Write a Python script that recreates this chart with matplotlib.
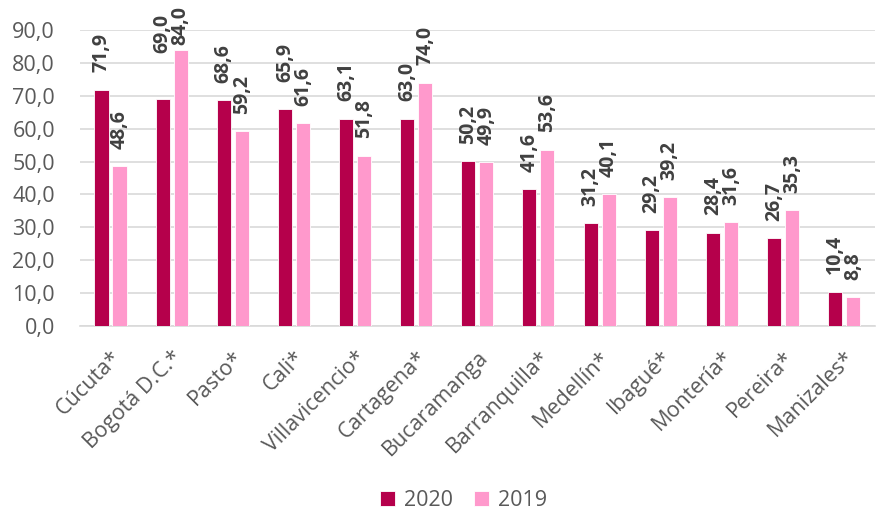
import numpy as np
import matplotlib
matplotlib.use("Agg")
import matplotlib.pyplot as plt

plt.rcParams['font.family'] = ['Open Sans', 'DejaVu Sans']

ciudades = ['Cúcuta*', 'Bogotá D.C.*', 'Pasto*', 'Cali*', 'Villavicencio*',
            'Cartagena*', 'Bucaramanga', 'Barranquilla*', 'Medellín*',
            'Ibagué*', 'Montería*', 'Pereira*', 'Manizales*']
v2020 = [71.9, 69.0, 68.6, 65.9, 63.1, 63.0, 50.2, 41.6, 31.2, 29.2, 28.4, 26.7, 10.4]
v2019 = [48.6, 84.0, 59.2, 61.6, 51.8, 74.0, 49.9, 53.6, 40.1, 39.2, 31.6, 35.3, 8.8]
yticks = np.arange(0, 91, 10)

c2020 = '#B5004B'
c2019 = '#FF99CC'
gris = '#595959'

# separacion de etiquetas (pt); algunas movidas para evitar choques, como en Excel
off_base = 12.5
off_esp = {('2020', 1): 33, ('2019', 1): 3.5, ('2020', 3): 20}

fig = plt.figure(figsize=(8.88, 5.19), dpi=100)
ax = fig.add_axes([0.09, 0.372, 0.895, 0.570])

x = np.arange(len(ciudades))
w = 0.23
gap = 0.065
b1 = ax.bar(x - (w + gap) / 2, v2020, w, color=c2020, edgecolor='white', linewidth=0.6, label='2020', zorder=3)
b2 = ax.bar(x + (w + gap) / 2, v2019, w, color=c2019, edgecolor='white', linewidth=0.6, label='2019', zorder=3)

def fmt(v):
    return f"{v:.1f}".replace('.', ',')

for serie, bars, vals in (('2020', b1, v2020), ('2019', b2, v2019)):
    for i, (r, v) in enumerate(zip(bars, vals)):
        off = off_esp.get((serie, i), off_base)
        ax.annotate(fmt(v), (r.get_x() + r.get_width() / 2, v),
                    xytext=(0, off), textcoords='offset points',
                    rotation=90, ha='center', va='bottom',
                    fontsize=14, fontweight='bold', color='#404040',
                    annotation_clip=False)

ax.set_xlim(-0.5, len(ciudades) - 0.5)
ax.set_ylim(0, 90)
ax.set_yticks(yticks)
ax.set_yticklabels([fmt(t) for t in yticks], fontsize=15.5, color=gris)
ax.set_xticks(x)
ax.set_xticklabels(ciudades, rotation=45, ha='right', rotation_mode='anchor',
                   fontsize=15.5, color=gris)
ax.tick_params(axis='both', length=0)
ax.tick_params(axis='x', pad=15)
ax.tick_params(axis='y', pad=18)
ax.grid(axis='y', color='#D9D9D9', linewidth=1.2, zorder=0)
for s in ('top', 'right', 'left'):
    ax.spines[s].set_visible(False)
ax.spines['bottom'].set_color('#D9D9D9')
ax.spines['bottom'].set_linewidth(1.2)

fig.legend(handles=[b1, b2], labels=['2020', '2019'], loc='lower center',
           bbox_to_anchor=(0.522, -0.022), ncol=2, frameon=False,
           fontsize=15.5, labelcolor=gris, handlelength=0.7, handleheight=0.7,
           handletextpad=0.4, columnspacing=1.0)

fig.savefig('out.png', dpi=100)
